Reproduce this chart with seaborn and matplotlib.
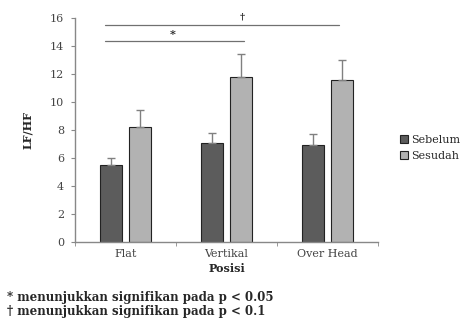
import matplotlib
matplotlib.use("Agg")
import matplotlib.pyplot as plt
import seaborn as sns
import pandas as pd
import numpy as np

categories = ["Flat", "Vertikal", "Over Head"]
groups = ["Sebelum", "Sesudah"]
sebelum = [5.5, 7.1, 6.9]
sesudah = [8.2, 11.8, 11.6]
sebelum_err = [0.5, 0.7, 0.85]
sesudah_err = [1.25, 1.6, 1.4]
footnotes = ["* menunjukkan signifikan pada p < 0.05", "\u2020 menunjukkan signifikan pada p < 0.1"]

df = pd.DataFrame({
    "Posisi": categories * 2,
    "Kelompok": [groups[0]] * 3 + [groups[1]] * 3,
    "LF/HF": sebelum + sesudah,
})

sns.set_style("white")
plt.rcParams["font.family"] = ["DejaVu Serif"]

fig = plt.figure(figsize=(4.63, 3.21), dpi=100)
ax = fig.add_axes([0.162, 0.246, 0.654, 0.698])

palette = {"Sebelum": "#5c5c5c", "Sesudah": "#b2b2b2"}
sns.barplot(data=df, x="Posisi", y="LF/HF", hue="Kelompok", order=categories,
            hue_order=groups, palette=palette, width=0.574, gap=0.24,
            edgecolor="#222222", linewidth=0.8, errorbar=None, ax=ax, legend=True)

# error bars (upward only)
errs = sebelum_err + sesudah_err
vals = sebelum + sesudah
for patch, v, e in zip(ax.patches[:6], vals, errs):
    xc = patch.get_x() + patch.get_width() / 2
    ax.errorbar(xc, v, yerr=[[0], [e]], fmt="none", ecolor="#808080",
                elinewidth=1.0, capsize=3, capthick=1.0, zorder=1)

ax.set_xlim(-0.5, 2.5)
ax.set_ylim(0, 16)
ax.set_yticks(np.arange(0, 17, 2))
ax.set_xticks([0, 1, 2])
ax.set_xticklabels(categories)
ax.set_xticks([-0.5, 0.5, 1.5, 2.5], minor=True)
ax.tick_params(axis="x", which="major", length=0, labelsize=8, pad=5)
ax.tick_params(axis="x", which="minor", length=3, direction="out", color="#888888", bottom=True)
ax.tick_params(axis="y", length=3, direction="out", color="#888888", labelsize=8,
               left=True, pad=5)
for lab in ax.get_yticklabels() + ax.get_xticklabels():
    lab.set_color("#444444")

for s in ["top", "right"]:
    ax.spines[s].set_visible(False)
for s in ["left", "bottom"]:
    ax.spines[s].set_color("#888888")
    ax.spines[s].set_linewidth(1.0)

ax.set_xlabel("Posisi", fontsize=8, fontweight="bold", labelpad=3)
ax.set_ylabel("LF/HF", fontsize=8, fontweight="bold", labelpad=12)

# significance lines
ax.plot([-0.2, 2.12], [15.5, 15.5], color="#707070", lw=0.9, clip_on=False)
ax.text(1.16, 15.75, "\u2020", ha="center", va="bottom", fontsize=7, fontweight="bold")
ax.plot([-0.2, 1.17], [14.35, 14.35], color="#707070", lw=0.9, clip_on=False)
ax.text(0.47, 14.45, "*", ha="center", va="bottom", fontsize=8, fontweight="bold")

leg = ax.legend(loc="center left", bbox_to_anchor=(1.04, 0.42), frameon=False,
                fontsize=8, handlelength=0.7, handleheight=0.7, handletextpad=0.3,
                labelspacing=0.5, title=None)

fig.text(0.015, 0.072, footnotes[0], fontsize=8.5, fontweight="bold", va="center")
fig.text(0.015, 0.031, footnotes[1], fontsize=8.5, fontweight="bold", va="center")

fig.savefig("out.png", dpi=100)
